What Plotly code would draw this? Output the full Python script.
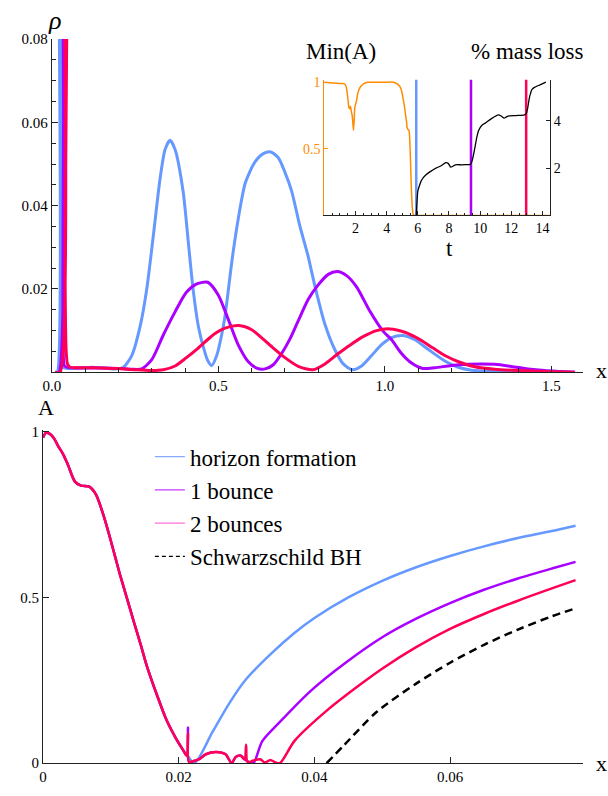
import plotly.graph_objects as go

# ---------------- top panel: rho(x) ----------------
rho_x_blue = [0.010, 0.016, 0.018, 0.026, 0.028, 0.033, 0.05, 0.08, 0.12, 0.16, 0.19, 0.215, 0.24, 0.265,
              0.285, 0.305, 0.325, 0.34, 0.355, 0.37, 0.394, 0.41, 0.424, 0.44, 0.455, 0.468, 0.48, 0.495,
              0.51, 0.52, 0.542, 0.56, 0.581, 0.61, 0.635, 0.657, 0.68, 0.70, 0.72, 0.745, 0.769, 0.789,
              0.82, 0.848, 0.875, 0.902, 0.93, 0.96, 0.99, 1.02, 1.055, 1.09, 1.13, 1.18, 1.22, 1.26,
              1.32, 1.40, 1.57]
rho_blue = [0.0, 0.0, 0.3, 0.3, 0.004, 0.0012, 0.0009, 0.001, 0.0012, 0.001, 0.0008, 0.0012, 0.004, 0.011,
            0.020, 0.033, 0.0465, 0.0535, 0.0557, 0.0535, 0.0435, 0.031, 0.020, 0.011, 0.006, 0.0028, 0.0016, 0.004,
            0.009, 0.0135, 0.0275, 0.037, 0.0455, 0.0505, 0.0525, 0.0529, 0.0515, 0.048, 0.0435, 0.035, 0.028, 0.021,
            0.0115, 0.0057, 0.002, 0.0006, 0.0015, 0.004, 0.0066, 0.0083, 0.0088, 0.0078, 0.0055, 0.0027, 0.0012, 0.0005,
            0.0002, 0.0001, 0.0]

rho_x_purple = [0.010, 0.021, 0.024, 0.030, 0.034, 0.038, 0.05, 0.1, 0.15, 0.2, 0.24, 0.27, 0.30, 0.335,
                0.37, 0.404, 0.435, 0.468, 0.50, 0.532, 0.56, 0.59, 0.615, 0.64, 0.665, 0.69, 0.715, 0.739,
                0.77, 0.798, 0.83, 0.857, 0.885, 0.915, 0.956, 0.995, 1.02, 1.05, 1.08, 1.114, 1.15, 1.2,
                1.25, 1.29, 1.33, 1.38, 1.43, 1.48, 1.52, 1.57]
rho_purple = [0.0, 0.0, 0.3, 0.3, 0.005, 0.0015, 0.0011, 0.001, 0.001, 0.0009, 0.0007, 0.0008, 0.003, 0.009,
              0.0145, 0.0192, 0.0212, 0.0216, 0.0185, 0.0122, 0.0065, 0.0025, 0.001, 0.0008, 0.0018, 0.0045, 0.008, 0.0122,
              0.0175, 0.0208, 0.0235, 0.0242, 0.0232, 0.0205, 0.0145, 0.0098, 0.0078, 0.0045, 0.0022, 0.0009, 0.0011, 0.0016,
              0.0019, 0.002, 0.0019, 0.0014, 0.0008, 0.0004, 0.0002, 0.0]

rho_x_red = [0.010, 0.025, 0.028, 0.037, 0.040, 0.043, 0.047, 0.055, 0.1, 0.15, 0.2, 0.25, 0.3, 0.335,
             0.37, 0.404, 0.435, 0.463, 0.49, 0.52, 0.562, 0.60, 0.631, 0.665, 0.70, 0.74, 0.784, 0.82,
             0.857, 0.895, 0.936, 0.975, 1.015, 1.06, 1.104, 1.145, 1.183, 1.225, 1.27, 1.33, 1.4, 1.48, 1.57]
rho_red = [0.0, 0.0, 0.3, 0.3, 0.02, 0.005, 0.002, 0.0012, 0.0011, 0.001, 0.0009, 0.0006, 0.0004, 0.0006,
           0.0015, 0.0035, 0.0055, 0.0075, 0.0093, 0.0106, 0.0112, 0.0102, 0.0082, 0.0058, 0.0035, 0.0014, 0.0006, 0.002,
           0.0043, 0.0065, 0.0086, 0.0100, 0.0104, 0.0096, 0.0079, 0.0058, 0.0039, 0.0024, 0.0013, 0.0007, 0.0004, 0.0002, 0.0]

# ---------------- inset: Min(A) and % mass loss vs t ----------------
t_minA = [0.0, 0.5, 1.0, 1.26, 1.4, 1.47, 1.53, 1.58, 1.63, 1.68, 1.74, 1.79, 1.83, 1.87, 1.91, 1.96, 2.02,
          2.07, 2.14, 2.21, 2.35, 2.53, 2.8, 3.16, 3.8, 4.42, 4.65, 4.84, 4.95, 5.05, 5.14, 5.22, 5.28, 5.31,
          5.37, 5.43, 5.47, 5.52, 5.56, 5.60, 5.64, 5.68, 5.72, 5.79, 6.5, 8.0, 10.0, 12.0, 14.4]
minA = [1.0, 0.995, 0.99, 0.99, 0.97, 0.92, 0.86, 0.81, 0.80, 0.82, 0.78, 0.75, 0.70, 0.64, 0.70, 0.81, 0.84,
        0.86, 0.91, 0.94, 0.97, 0.99, 1.0, 1.0, 1.0, 1.0, 0.99, 0.97, 0.94, 0.88, 0.82, 0.75, 0.70, 0.66,
        0.645, 0.64, 0.60, 0.45, 0.30, 0.16, 0.07, 0.02, 0.005, 0.0, 0.0, 0.0, 0.0, 0.0, 0.0]

t_mass = [5.9, 5.95, 6.0, 6.1, 6.21, 6.35, 6.53, 6.8, 7.16, 7.5, 7.79, 7.95, 8.11, 8.25, 8.42, 8.8, 9.2,
          9.37, 9.45, 9.52, 9.6, 9.69, 9.8, 9.9, 10.1, 10.32, 10.7, 11.16, 11.35, 11.54, 11.65, 11.79, 12.3,
          12.84, 12.95, 13.05, 13.15, 13.25, 13.31, 13.45, 13.69, 13.95, 14.21]
mass_loss = [0.0, 0.6, 1.03, 1.25, 1.45, 1.6, 1.72, 1.85, 2.0, 2.1, 2.23, 2.2, 2.04, 2.08, 2.14, 2.14, 2.15,
             2.15, 2.25, 2.4, 2.65, 2.97, 3.35, 3.59, 3.8, 3.9, 4.08, 4.25, 4.2, 4.11, 4.15, 4.2, 4.22,
             4.25, 4.3, 4.55, 4.95, 5.2, 5.31, 5.4, 5.48, 5.55, 5.63]

event_times = [5.9, 9.41, 12.95]   # horizon formation, 1 bounce, 2 bounces
event_span = [0.0, 1.1]

# ---------------- bottom panel: A(x) ----------------
A_x_common = [0.0, 0.0004, 0.001, 0.0016, 0.0022, 0.0030, 0.0037, 0.0047, 0.0056, 0.0068, 0.0078, 0.0090,
              0.0105, 0.0114, 0.0124, 0.0134, 0.0144, 0.0153, 0.0168, 0.0182, 0.0195, 0.0206]
A_common = [0.982, 0.996, 0.993, 0.98, 0.957, 0.93, 0.898, 0.849, 0.837, 0.834, 0.81, 0.741,
            0.632, 0.564, 0.495, 0.425, 0.357, 0.293, 0.205, 0.13, 0.078, 0.041]

A_x_blue = A_x_common + [0.0214, 0.0223, 0.0250, 0.0274, 0.0298, 0.0335, 0.037, 0.040, 0.045, 0.050,
                         0.055, 0.060, 0.065, 0.070, 0.075, 0.0785]
A_blue = A_common + [0.02, 0.0, 0.095, 0.179, 0.25, 0.328, 0.392, 0.438, 0.50, 0.55,
                     0.591, 0.625, 0.654, 0.679, 0.70, 0.716]

A_x_purple = A_x_common + [0.0212, 0.02136, 0.0215, 0.0221, 0.0230, 0.0240, 0.0255, 0.0269, 0.0278, 0.0284,
                           0.0291, 0.0297, 0.0303, 0.0310, 0.0323, 0.0347, 0.0395, 0.0444, 0.050, 0.055,
                           0.060, 0.065, 0.070, 0.075, 0.0785]
A_purple = A_common + [0.022, 0.108, 0.004, 0.006, 0.012, 0.027, 0.034, 0.027, 0.0, 0.019,
                       0.023, 0.012, 0.004, 0.0, 0.066, 0.12, 0.219, 0.30, 0.38, 0.436,
                       0.483, 0.523, 0.557, 0.587, 0.607]

A_x_red = A_x_common + [0.0212, 0.02136, 0.0215, 0.0221, 0.0230, 0.0240, 0.0255, 0.0269, 0.0278, 0.0284,
                        0.0291, 0.0297, 0.02993, 0.0301, 0.0305, 0.0310, 0.0320, 0.0327, 0.0335, 0.0342,
                        0.0349, 0.0371, 0.0419, 0.0468, 0.0502, 0.055, 0.060, 0.065, 0.070, 0.075, 0.0785]
A_red = A_common + [0.022, 0.09, 0.004, 0.006, 0.012, 0.027, 0.034, 0.027, 0.0, 0.019,
                    0.023, 0.012, 0.056, 0.005, 0.004, 0.008, 0.012, 0.002, 0.01, 0.003,
                    0.0, 0.068, 0.16, 0.238, 0.288, 0.35, 0.405, 0.45, 0.49, 0.527, 0.552]

A_x_schw = [0.0418, 0.0444, 0.0492, 0.055, 0.060, 0.065, 0.070, 0.075, 0.0785]
A_schw = [0.0, 0.055, 0.155, 0.24, 0.303, 0.357, 0.403, 0.443, 0.467]

legend_names = ["horizon formation", "1 bounce", "2 bounces", "Schwarzschild BH"]
legend_colors = ["#86a8ff", "#c63cff", "#ff70d8", "#000000"]

# ---------------- styles ----------------
BLUE = "#6699ff"
PURPLE = "#aa00ff"
RED = "#ff0055"
ORANGE = "#ff8c00"
FONT = "Liberation Serif, Tinos, Times New Roman, DejaVu Serif, serif"
AX = "#222222"

fig = go.Figure()

for xs, ys, c in [(rho_x_blue, rho_blue, BLUE), (rho_x_purple, rho_purple, PURPLE), (rho_x_red, rho_red, RED)]:
    fig.add_trace(go.Scatter(x=xs, y=ys, mode="lines", line=dict(color=c, width=3, shape="spline", smoothing=0.7),
                             xaxis="x", yaxis="y", showlegend=False, hoverinfo="skip"))

fig.add_trace(go.Scatter(x=t_minA, y=minA, mode="lines", line=dict(color=ORANGE, width=1.5, shape="spline", smoothing=0.6),
                         xaxis="x3", yaxis="y3", showlegend=False))
fig.add_trace(go.Scatter(x=t_mass, y=mass_loss, mode="lines", line=dict(color="black", width=1.3, shape="spline", smoothing=0.6),
                         xaxis="x3", yaxis="y4", showlegend=False))
for t, c in zip(event_times, [BLUE, PURPLE, RED]):
    fig.add_trace(go.Scatter(x=[t, t], y=event_span, mode="lines", line=dict(color=c, width=2.5),
                             xaxis="x3", yaxis="y3", showlegend=False))

for xs, ys, c in [(A_x_blue, A_blue, BLUE), (A_x_purple, A_purple, PURPLE), (A_x_red, A_red, RED)]:
    fig.add_trace(go.Scatter(x=xs, y=ys, mode="lines", line=dict(color=c, width=2.5, shape="spline", smoothing=0.8),
                             xaxis="x2", yaxis="y2", showlegend=False))
fig.add_trace(go.Scatter(x=A_x_schw, y=A_schw, mode="lines",
                         line=dict(color="black", width=2.5, dash="8px,5px", shape="spline", smoothing=0.8),
                         xaxis="x2", yaxis="y2", showlegend=False))

# legend entries (legend swatch colours differ from curve colours in the original)
for name, c in zip(legend_names, legend_colors):
    fig.add_trace(go.Scatter(x=[None], y=[None], mode="lines", name=name, legendgroup=name,
                             line=dict(color=c, width=1.2, dash="4px,3px" if c == "#000000" else "solid"),
                             xaxis="x2", yaxis="y2"))

W, H = 608, 796
def px(v):
    return v / W
def py(v):
    return (H - v) / H

tickfont = dict(family=FONT, size=15, color="black")
common = dict(showgrid=False, zeroline=False, showline=True, linecolor=AX, linewidth=1,
              ticks="inside", tickcolor=AX, mirror=False)

fig.update_layout(
    width=W, height=H, margin=dict(l=0, r=0, t=0, b=0),
    paper_bgcolor="white", plot_bgcolor="rgba(0,0,0,0)",
    font=dict(family=FONT, color="black"),
    xaxis=dict(domain=[px(43.5), px(583)], range=[0, 1.596], anchor="y",
               tickvals=[0, 0.5, 1.0, 1.5], ticktext=["0.0", "0.5", "1.0", "1.5"], ticklen=6,
               minor=dict(ticks="inside", ticklen=4, dtick=0.1, tick0=0, tickcolor=AX),
               tickfont=tickfont, **common),
    yaxis=dict(domain=[py(371.7), py(31.7)], range=[0, 0.08], anchor="x",
               tickvals=[0.02, 0.04, 0.06, 0.08], ticktext=["0.02", "0.04", "0.06", "0.08"], ticklen=6,
               minor=dict(ticks="inside", ticklen=4, dtick=0.005, tick0=0, tickcolor=AX),
               tickfont=tickfont, **common),
    xaxis2=dict(domain=[px(34.6), px(583)], range=[0, 0.07965], anchor="y2",
                tickvals=[0, 0.02, 0.04, 0.06], ticktext=["0", "0.02", "0.04", "0.06"], ticklen=6,
                tickfont=tickfont, **common),
    yaxis2=dict(domain=[py(770.7), py(431)], range=[0, 1.0038], anchor="x2",
                tickvals=[0, 0.5, 1], ticktext=["0", "0.5", "1"], ticklen=6,
                tickfont=tickfont, **common),
    xaxis3=dict(domain=[px(320), px(549)], range=[0, 14.47], anchor="y3",
                tickvals=[2, 4, 6, 8, 10, 12, 14], ticklen=4,
                minor=dict(ticks="inside", ticklen=2.5, dtick=0.5, tick0=0, tickcolor=AX),
                tickfont=dict(family=FONT, size=14, color="black"), **common),
    yaxis3=dict(domain=[py(211.7), py(73.3)], range=[0, 1.018], anchor="x3",
                tickvals=[0.5, 1], ticktext=["0.5", "1"], ticklen=4,
                showgrid=False, zeroline=False, showline=True, linecolor=ORANGE, linewidth=1,
                ticks="inside", tickcolor=ORANGE,
                tickfont=dict(family=FONT, size=14, color=ORANGE)),
    yaxis4=dict(overlaying="y3", side="right", range=[0, 5.73], anchor="x3",
                tickvals=[2, 4], ticklen=4,
                tickfont=dict(family=FONT, size=14, color="black"), **common),
    legend=dict(x=px(143), y=py(436), xanchor="left", yanchor="top",
                font=dict(family=FONT, size=23, color="black"), bgcolor="rgba(0,0,0,0)",
                tracegroupgap=0.3, itemwidth=30),
    showlegend=True,
)

def label(text, x, y, size=22):
    fig.add_annotation(text=text, x=px(x), y=py(y), xref="paper", yref="paper", showarrow=False,
                       xanchor="center", yanchor="middle", font=dict(family=FONT, size=size, color="black"))

label("<i>ρ</i>", 46, 13, 26)
label("x", 601, 370, 22)
label("A", 38, 408, 22)
label("x", 601, 771, 22)
label("Min(A)", 337, 44, 23)
label("% mass loss", 526, 44, 23)
label("t", 447, 245, 23)

fig.write_html("out.html")
